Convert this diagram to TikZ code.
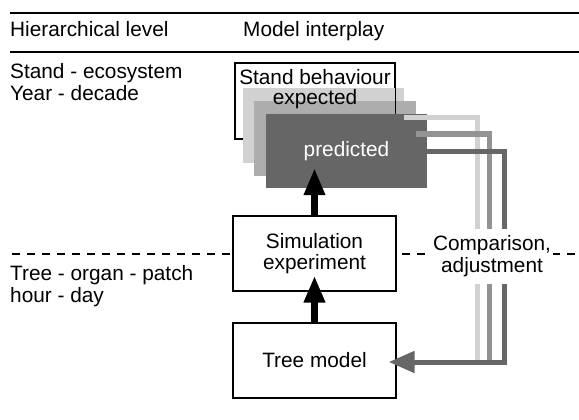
\documentclass[tikz,border=0pt]{standalone}
\usepackage{fontspec}
\setmainfont{Liberation Sans}
\usetikzlibrary{arrows.meta}

\definecolor{lightbox}{gray}{0.82}
\definecolor{midbox}{gray}{0.68}
\definecolor{darkbox}{gray}{0.40}

\tikzset{
  every node/.style={font=\fontsize{20.8}{21.5}\selectfont, inner sep=0pt},
  modelbox/.style={draw, line width=1.3pt, fill=white, minimum width=163pt, minimum height=75pt, align=center},
  plate/.style={minimum width=161pt, minimum height=74pt},
  feed/.style={line width=5pt},
  lift/.style={line width=7pt, -{Triangle[length=27pt,width=20pt]}},
}

\begin{document}
\begin{tikzpicture}[x=1pt,y=-1pt]%
\useasboundingbox (0,0) rectangle (579,420);%
% header rules
\draw[line width=2pt] (10,13) -- (579,13);%
\draw[line width=2pt] (10,52) -- (579,52);%
\node[anchor=base west] (levelhead) at (10,37) {Hierarchical level};%
\node[anchor=base west] (playhead) at (243,37) {Model interplay};%
% level texts
\node[anchor=base west] (standlvl) at (10,79) {Stand - ecosystem};%
\node[anchor=base west] (yearlvl) at (10,101) {Year - decade};%
\node[anchor=base west] (treelvl) at (10,280) {Tree - organ - patch};%
\node[anchor=base west] (hourlvl) at (10,302) {hour - day};%
% level border
\draw[line width=1.2pt, dash pattern=on 8pt off 7pt] (12,254) -- (579,254);%
% stacked stand behaviour
\node[modelbox, minimum width=160pt, minimum height=76pt] (stand) at (315,101) {};%
\node[plate, fill=lightbox] (light) at (323.5,125.5) {};%
\node[plate, fill=midbox, minimum width=162pt] (mid) at (335,138.5) {};%
\node[plate, fill=darkbox, text=white] (pred) at (346.5,151) {predicted};%
\draw[line width=1.3pt] (stand.north east) -- (stand.east |- pred.north);%
\node[align=center, font=\fontsize{20.8}{20}\selectfont] (standtxt) at (315,89) {Stand behaviour\\expected};%
% lower models
\node[modelbox] (sim) at (314.5,253.5) {Simulation\\experiment};%
\node[modelbox] (tree) at (314.5,360.5) {Tree model};%
\draw[lift, shorten >=-16pt] (tree.north) -- (sim.south);%
\draw[lift, shorten >=-20pt] (sim.north) -- (sim.north |- pred.south);%
% feedback lines
\coordinate (lightfoot) at (477,362);%
\coordinate (midfoot) at (489,362);%
\coordinate (darkfoot) at (504,362);%
\draw[feed, lightbox] ([yshift=7.5pt]light.east) -| (lightfoot);%
\draw[feed, midbox!85!black] ([yshift=4.5pt]mid.east) -| (midfoot);%
\draw[feed, darkbox, -{Triangle[length=26pt,width=21pt]}, shorten >=-8pt] (pred.east) -| (darkfoot) -- (darkfoot -| tree.east);%
\node[fill=white, align=center, minimum height=55pt, inner xsep=2pt, font=\fontsize{20.8}{22}\selectfont] (compare) at (492,256) {Comparison,\\adjustment};%
\end{tikzpicture}
\end{document}
